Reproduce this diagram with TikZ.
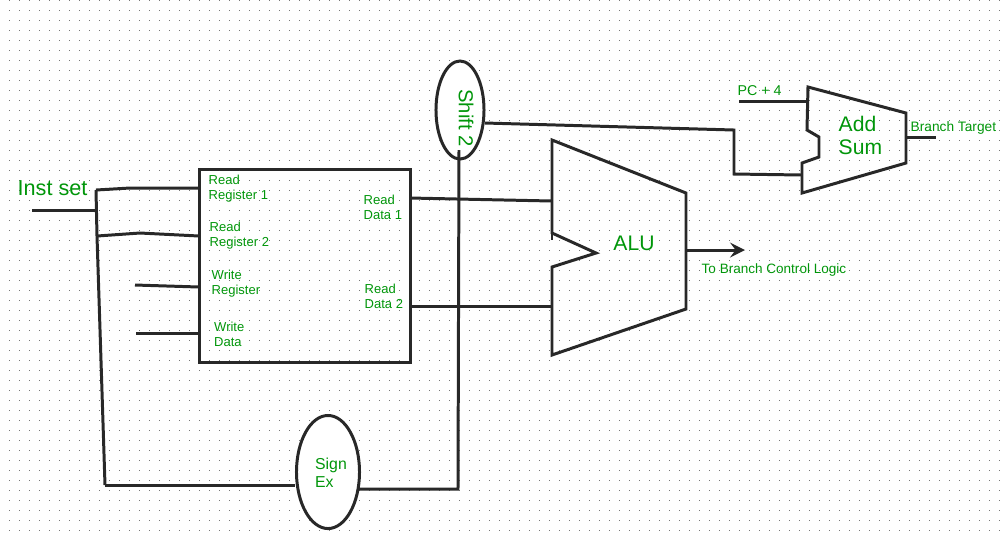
\documentclass[tikz,border=0pt]{standalone}
\usepackage{fontspec}
\setmainfont{Liberation Sans}
\usetikzlibrary{shapes.geometric}
\definecolor{labelgreen}{RGB}{0,150,10}
\definecolor{griddot}{RGB}{120,120,120}
\definecolor{inkline}{RGB}{40,40,40}
\tikzset{
    wire/.style={draw=inkline, line width=0.85pt, line join=miter},
    blob/.style={ellipse, draw=inkline, line width=0.85pt, fill=white, inner sep=0pt},
    smalltxt/.style={text=labelgreen, align=left, inner sep=0pt, anchor=north west,
        font=\fontsize{3.7}{4.35}\selectfont},
    bigtxt/.style={text=labelgreen, align=left, inner sep=0pt,
        font=\fontsize{6}{6.8}\selectfont},
}
\begin{document}
\begin{tikzpicture}[>=stealth, x=0.01cm, y=-0.01cm]
        \useasboundingbox (0,0) rectangle (1002,535);
        \fill[white] (0,0) rectangle (1002,535);

        % Dotted sheet
        \foreach \x in {9,19,...,999}
            \foreach \y in {0,10,...,530}
                \fill[griddot] (\x,\y) rectangle +(1,1);

        % Register file
        \node[draw=inkline, line width=0.85pt, minimum width=2.11cm, minimum height=1.93cm, inner sep=0pt]
            (regfile) at (304.8,266.2) {};
        \node[smalltxt] (rr1) at (208,174) {Read\\Register 1};
        \node[smalltxt] (rr2) at (209,221) {Read\\Register 2};
        \node[smalltxt] (wr) at (211,269) {Write\\Register};
        \node[smalltxt] (wd) at (213.5,321) {Write\\Data};
        \node[smalltxt] (rd1) at (363,194) {Read\\Data 1};
        \node[smalltxt] (rd2) at (364,283) {Read\\Data 2};

        % Ports on the register file
        \coordinate (p1) at (199,188);
        \coordinate (p2) at (199,236);
        \coordinate (p3) at (199,287);
        \coordinate (p4) at (199,333);
        \coordinate (q1) at (410,198);
        \coordinate (q2) at (410,306);

        % ALU
        \draw[wire] (552,140) coordinate (alutop) -- (686,193) -- (686,309) -- (552,355) coordinate (alubot)
            -- (552,267) -- (596,253) -- (552,233) -- cycle;
        \draw[wire] (552,233) -- (552,240);
        \node[bigtxt] (alu) at (634,243) {ALU};
        \coordinate (aluA) at (552,201);
        \coordinate (aluB) at (552,306);
        \coordinate (aluout) at (686,250);
        \coordinate (ctrl) at (745,250);
        \node[smalltxt, anchor=west, font=\fontsize{3.85}{4.5}\selectfont] (ctrltxt) at (701,270) {To Branch Control Logic};

        % Adder
        \draw[wire] (808,87) -- (906,113) -- (906,163) -- (802,193) -- (802,163)
            -- (819,157) -- (819,137) -- (807,130) -- cycle;
        \node[bigtxt] (addtxt) at (838,115) [anchor=north west] {Add\\Sum};
        \coordinate (addA) at (807,101);
        \coordinate (addB) at (802,175);
        \coordinate (addout) at (906,137);
        \coordinate (target) at (936,137);
        \coordinate (pcend) at (739,101);
        \node[smalltxt, font=\fontsize{4.05}{4.8}\selectfont] (pctxt) at (737,84.5) {PC + 4};
        \node[smalltxt, font=\fontsize{3.9}{4.5}\selectfont] (targettxt) at (910,120.5) {Branch Target};

        % Wires behind the ovals
        \coordinate (instend) at (32,210);
        \coordinate (instjoin) at (95,210);
        \coordinate (busA) at (96,190);
        \coordinate (busB) at (97,236);
        \coordinate (busC) at (105,485);
        \coordinate (stubC) at (135,285);
        \coordinate (stubD) at (136,333);
        \coordinate (shiftdown) at (459,150);
        \coordinate (corner) at (458,489);
        \coordinate (bendA) at (734,130);
        \coordinate (bendB) at (734,174);
        \draw[wire] (instend) -- (instjoin);
        \draw[wire] (busA) -- (busB) -- (busC);
        \draw[wire] (busA) -- (130,188) -- (p1);
        \draw[wire] (busB) -- (140,233) -- (p2);
        \draw[wire] (stubC) -- (p3);
        \draw[wire] (stubD) -- (p4);
        \draw[wire] (q1) -- (aluA);
        \draw[wire] (q2) -- (aluB);
        \draw[wire, ->] (aluout) -- (ctrl);
        \draw[wire] (pcend) -- (addA);
        \draw[wire] (addout) -- (target);

        % Ovals
        \node[blob, minimum width=0.48cm, minimum height=0.98cm] (shift) at (460,110) {};
        \node[blob, minimum width=0.63cm, minimum height=1.13cm] (signex) at (328,472) {};
        \node[bigtxt, rotate=-90, font=\fontsize{5.75}{6}\selectfont] (shifttxt) at (466,118) {Shift 2};
        \node[bigtxt, font=\fontsize{4.5}{5.2}\selectfont] (signtxt) at (331,473) {Sign\\Ex};

        \draw[wire] (busC) -- (signex.west |- busC);
        \draw[wire] (359,489) -- (corner) -- (shiftdown);
        \draw[wire] (485,123) -- (bendA) -- (bendB) -- (addB);

        \node[bigtxt, anchor=west, font=\fontsize{6.15}{7}\selectfont] (inst) at (17,188.5) {Inst set};
    \end{tikzpicture}
\end{document}
